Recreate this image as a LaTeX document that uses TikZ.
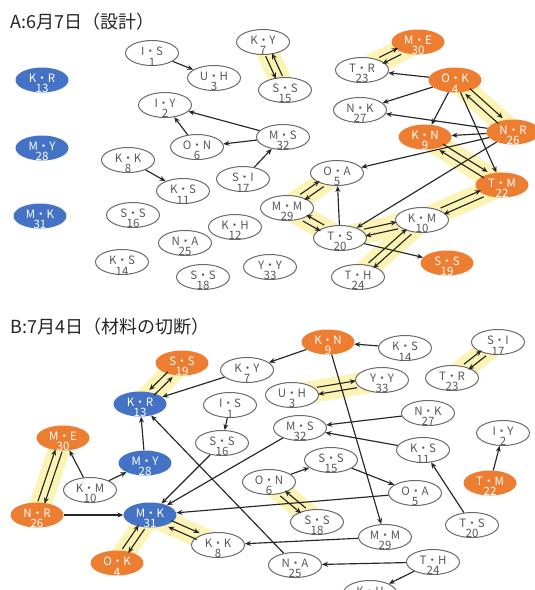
\documentclass[tikz,border=0pt]{standalone}
\usepackage{fontspec}
\setmainfont{Noto Sans CJK JP}
\usetikzlibrary{arrows.meta,shapes.geometric,calc}
\definecolor{orng}{HTML}{ED7D31}
\definecolor{blu}{HTML}{4472C4}
\definecolor{txtg}{HTML}{595959}
\definecolor{bord}{HTML}{6A6A6A}
\definecolor{hl}{RGB}{252,244,180}
\pgfdeclarelayer{bg}
\pgfsetlayers{bg,main}
\tikzset{
 base/.style={ellipse, minimum width=53pt, minimum height=25pt, inner sep=0pt},
 w/.style={base, draw=bord, line width=1pt, fill=white},
 o/.style={base, fill=orng},
 b/.style={base, fill=blu},
 wtxt/.style={text=txtg},
 otxt/.style={text=white},
 btxt/.style={text=white},
 lbl/.style={align=center, inner sep=0pt, font=\fontsize{11.5}{10.5}\selectfont, yshift=-3.5pt},
 arr/.style={-{Stealth[length=6pt,width=5pt]}, line width=1.15pt, draw=black!85},
 band/.style={line width=22pt, draw=hl, line cap=round},
 ttl/.style={anchor=base west, inner sep=0pt, font=\fontsize{18}{20}\selectfont, text=black!85},
}
\newcommand\nd[6]{\node[#6] (#1) at (#2,#3) {}; \node[lbl,#6txt] at (#1) {#4\\#5};}
\newcommand\twoway[3]{%
 \pgfmathanglebetweenpoints{\pgfpointanchor{#1}{center}}{\pgfpointanchor{#2}{center}}%
 \edef\myang{\pgfmathresult}%
 \pgfmathsetmacro\angA{\myang+(#3)}%
 \pgfmathsetmacro\angB{\myang-(#3)}%
 \draw[arr, transform canvas={shift={(\angA:3.5pt)}}] (#1) -- (#2);
 \draw[arr, transform canvas={shift={(\angB:3.5pt)}}] (#2) -- (#1);
 \begin{pgfonlayer}{bg}\draw[band] (#1.center) -- (#2.center);\end{pgfonlayer}
}
\begin{document}
\begin{tikzpicture}[x=1pt,y=-1pt]
\begin{pgfonlayer}{bg}
\fill[white] (0,0) rectangle (535,590);
\end{pgfonlayer}
\useasboundingbox (0,0) rectangle (535,590);
\clip (0,0) rectangle (535,590);

% ---------- A ----------
\node[ttl] (tA) at (10,28) {A:6月7日（設計）};
\nd{aKR}{42}{80}{K・R}{13}{b}
\nd{aMY}{42}{148}{M・Y}{28}{b}
\nd{aMK}{40}{216}{M・K}{31}{b}
\nd{aIS}{152}{53}{I・S}{1}{w}
\nd{aUH}{214}{78}{U・H}{3}{w}
\nd{aKY}{263}{42}{K・Y}{7}{w}
\nd{aSS15}{285}{90}{S・S}{15}{w}
\nd{aIY}{165}{105}{I・Y}{2}{w}
\nd{aON}{197}{147}{O・N}{6}{w}
\nd{aMS}{283}{137}{M・S}{32}{w}
\nd{aKK}{128}{160}{K・K}{8}{w}
\nd{aKS11}{183}{191}{K・S}{11}{w}
\nd{aSI}{243}{179}{S・I}{17}{w}
\nd{aSS16}{133}{215}{S・S}{16}{w}
\nd{aKH}{235}{227}{K・H}{12}{w}
\nd{aNA}{185}{243}{N・A}{25}{w}
\nd{aKS14}{122}{262}{K・S}{14}{w}
\nd{aSS18}{203}{277}{S・S}{18}{w}
\nd{aYY}{270}{267}{Y・Y}{33}{w}
\nd{aOA}{337}{173}{O・A}{5}{w}
\nd{aMM}{287}{208}{M・M}{29}{w}
\nd{aTS}{340}{238}{T・S}{20}{w}
\nd{aKM}{422}{220}{K・M}{10}{w}
\nd{aTM}{502}{185}{T・M}{22}{o}
\nd{aSS19}{447}{263}{S・S}{19}{o}
\nd{aTH}{358}{277}{T・H}{24}{w}
\nd{aME}{418}{42}{M・E}{30}{o}
\nd{aTR}{362}{70}{T・R}{23}{w}
\nd{aOK}{455}{80}{O・K}{4}{o}
\nd{aNK}{360}{110}{N・K}{27}{w}
\nd{aNR}{513}{132}{N・R}{26}{o}
\nd{aKN}{425}{137}{K・N}{9}{o}

\draw[arr] (aIS) -- (aUH);
\draw[arr] (aMS) -- (aIY);
\draw[arr] (aON) -- (aIY);
\draw[arr] (aMS) -- (aON);
\draw[arr] (aSI) -- (aMS);
\draw[arr] (aKK) -- (aKS11);
\draw[arr] (aOK) -- (aTR);
\draw[arr] (aOK) -- (aNK);
\draw[arr] (aOK) -- (aKN);
\draw[arr] (aOK) -- (aTM);
\draw[arr] (aNR) -- (aNK);
\draw[arr] (aNR) -- (aKN);
\draw[arr] (aNR) -- (aOA);
\draw[arr] (aNR) -- (aTS);
\draw[arr] (aTS) -- (aOA);
\draw[arr] (aTS) -- (aSS19);

\twoway{aKY}{aSS15}{-90}
\twoway{aTR}{aME}{90}
\twoway{aOK}{aNR}{90}
\twoway{aKN}{aTM}{90}
\twoway{aKM}{aTM}{90}
\twoway{aMM}{aOA}{90}
\twoway{aMM}{aTS}{-90}
\twoway{aTS}{aKM}{90}
\twoway{aTH}{aKM}{90}

% ---------- B ----------
\node[ttl] (tB) at (10,333) {B:7月4日（材料の切断）};
\nd{bSS19}{182}{363}{S・S}{19}{o}
\nd{bKR}{140}{404}{K・R}{13}{b}
\nd{bKY}{247}{370}{K・Y}{7}{w}
\nd{bIS}{230}{405}{I・S}{1}{w}
\nd{bSS16}{222}{443}{S・S}{16}{w}
\nd{bME}{63}{438}{M・E}{30}{o}
\nd{bMY}{145}{463}{M・Y}{28}{b}
\nd{bKM}{90}{490}{K・M}{10}{w}
\nd{bNR}{37}{515}{N・R}{26}{o}
\nd{bMK}{150}{515}{M・K}{31}{b}
\nd{bOK}{117}{563}{O・K}{4}{o}
\nd{bKK}{218}{545}{K・K}{8}{w}
\nd{bKN}{328}{342}{K・N}{9}{o}
\nd{bKS14}{405}{348}{K・S}{14}{w}
\nd{bSI}{498}{342}{S・I}{17}{w}
\nd{bTR}{452}{378}{T・R}{23}{w}
\nd{bYY}{382}{380}{Y・Y}{33}{w}
\nd{bUH}{292}{395}{U・H}{3}{w}
\nd{bNK}{428}{413}{N・K}{27}{w}
\nd{bMS}{300}{428}{M・S}{32}{w}
\nd{bIY}{503}{433}{I・Y}{2}{w}
\nd{bKS11}{423}{450}{K・S}{11}{w}
\nd{bSS15}{331}{460}{S・S}{15}{w}
\nd{bON}{269}{482}{O・N}{6}{w}
\nd{bTM}{490}{483}{T・M}{22}{o}
\nd{bOA}{415}{493}{O・A}{5}{w}
\nd{bSS18}{317}{522}{S・S}{18}{w}
\nd{bTS}{472}{525}{T・S}{20}{w}
\nd{bMM}{385}{537}{M・M}{29}{w}
\nd{bNA}{295}{565}{N・A}{25}{w}
\nd{bTH}{433}{562}{T・H}{24}{w}
\nd{bKH}{370}{593}{K・H}{12}{w}

\draw[arr] (bKY) -- (bKR);
\draw[arr] (bKN) -- (bKY);
\draw[arr] (bKS14) -- (bKN);
\draw[arr] (bKN) -- (bMM);
\draw[arr] (bNK) -- (bMS);
\draw[arr] (bKS11) -- (bMS);
\draw[arr] (bTM) -- (bIY);
\draw[arr] (bIS) -- (bSS16);
\draw[arr] (bSS16) -- (bMK);
\draw[arr] (bMS) -- (bMK);
\draw[arr] (bMY) -- (bKR);
\draw[arr] (bKM) -- (bMY);
\draw[arr] (bKM) -- (bME);
\draw[arr] (bNR) -- (bMK);
\draw[arr] (bOA) -- (bMK);
\draw[arr] (bON) -- (bSS15);
\draw[arr] (bSS15) -- (bOA);
\draw[arr] (bMM) -- (bKK);
\draw[arr] (bTH) -- (bNA);
\draw[arr] (bTH) -- (bKH);
\draw[arr] (bTS) -- (bKS11);
\draw[arr] (bNA) -- (bKR);

\twoway{bSS19}{bKR}{-90}
\twoway{bUH}{bYY}{90}
\twoway{bTR}{bSI}{90}
\twoway{bNR}{bME}{90}
\twoway{bOK}{bMK}{90}
\twoway{bMK}{bKK}{90}
\twoway{bON}{bSS18}{-90}
\end{tikzpicture}
\end{document}
